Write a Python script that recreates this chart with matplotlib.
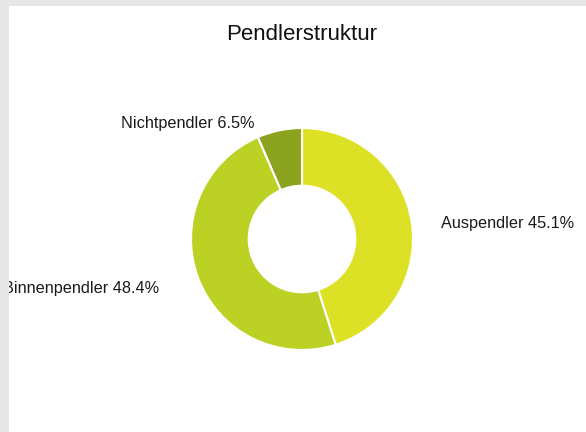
import matplotlib.pyplot as plt
import matplotlib.patches as mpatches
import numpy as np

plt.rcParams['font.family'] = ['Liberation Sans', 'DejaVu Sans']

categories = ['Auspendler', 'Binnenpendler', 'Nichtpendler']
shares = [45.1, 48.4, 6.5]
colors = ['#dce126', '#bbd124', '#8ca31f']

W, H = 586, 432
fig = plt.figure(figsize=(W / 100, H / 100), dpi=100)
fig.patch.set_facecolor('white')

# pie axes: centre (302, 239) px, radius 111 px
cx, cy, r = 302, 239, 111
ax = fig.add_axes([(cx - r) / W, (H - cy - r) / H, 2 * r / W, 2 * r / H])
wedges, texts = ax.pie(shares, colors=colors, startangle=90, counterclock=False,
                       radius=1, wedgeprops=dict(width=0.52, edgecolor='white', linewidth=1.5),
                       labels=[f'{c} {v}%' for c, v in zip(categories, shares)],
                       labeldistance=1.25, textprops=dict(fontsize=11.7, color='#1a1a1a'))
ax.set_xlim(-1, 1)
ax.set_ylim(-1, 1)
ax.set_aspect('equal')
ax.axis('off')

# label anchors: radial stretch per direction (x, y) like the original layout
stretch = [(1.27, 1.0), (1.37, 1.23), (2.1, 1.08)]
for w, t, (fx, fy) in zip(wedges, texts, stretch):
    ang = np.deg2rad((w.theta1 + w.theta2) / 2)
    t.set_position((np.cos(ang) * fx, np.sin(ang) * fy - 0.018))

fig.text(cx / W, 1 - 35 / H, 'Pendlerstruktur', ha='center', va='center', fontsize=16, color='#111111')

# grey frame on the left and top
fig.patches.append(mpatches.Rectangle((0, 0), 8.5 / W, 1, transform=fig.transFigure,
                                      facecolor='#e6e6e6', edgecolor='none', zorder=5))
fig.patches.append(mpatches.Rectangle((0, 1 - 6 / H), 1, 6 / H, transform=fig.transFigure,
                                      facecolor='#e6e6e6', edgecolor='none', zorder=5))

fig.savefig('out.png', dpi=100)
